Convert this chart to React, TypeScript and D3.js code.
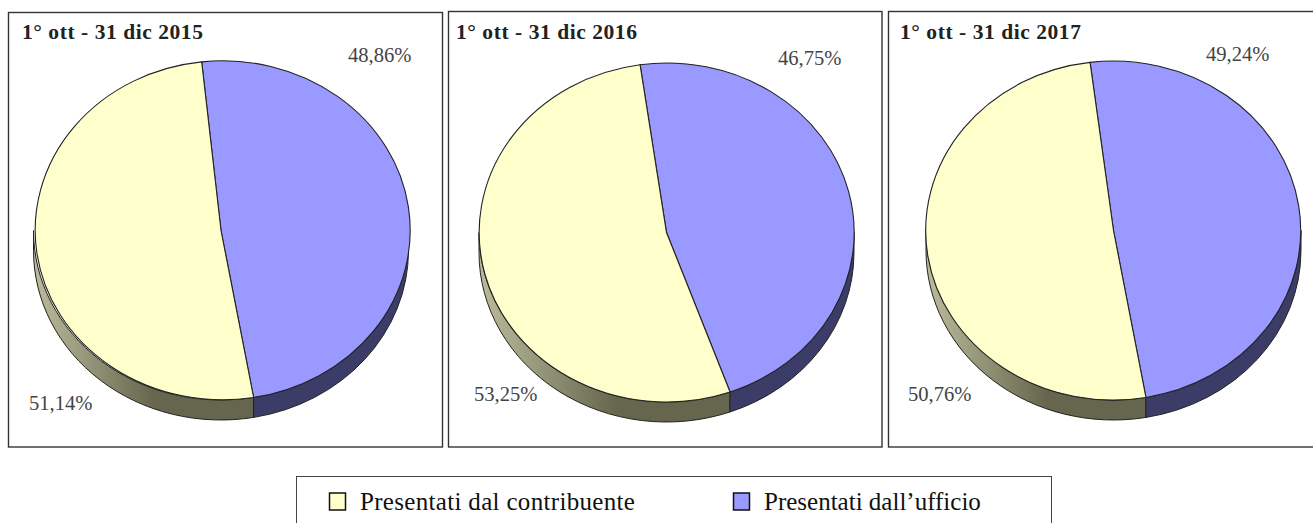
import { useEffect, useRef } from "react";
import * as d3 from "d3";

const periods = ["1° ott - 31 dic 2015", "1° ott - 31 dic 2016", "1° ott - 31 dic 2017"];
const contribuente = [51.14, 53.25, 50.76];
const ufficio = [48.86, 46.75, 49.24];
const seriesNames = ["Presentati dal contribuente", "Presentati dall’ufficio"];

const fmt = (v: number) => v.toFixed(2).replace(".", ",") + "%";

// layout of each panel, measured on the picture
const panels = [
  { x: 8.5, y: 12.5, w: 434, h: 434.5, cx: 221, cy: 230.5, rot: -5.9, tx: 22, blue: [348, 62], yellow: [29, 410] },
  { x: 448.5, y: 11.5, w: 433.5, h: 435.5, cx: 666.5, cy: 232.5, rot: -8.1, tx: 456, blue: [778, 65], yellow: [474, 401] },
  { x: 888.5, y: 11.5, w: 440, h: 435.5, cx: 1113.5, cy: 230.5, rot: -7.2, tx: 900, blue: [1206, 61], yellow: [908, 401] },
];
const legendSpacing = [0.32, 0];
const rx = 187.5;
const ry = 169.5;
const depth = 20;

const App = () => {
  const svgRef = useRef<SVGSVGElement>(null);

  useEffect(() => {
    document.body.style.margin = "0";
    const svg = d3.select(svgRef.current);
    svg.selectAll("*").remove();

    const grad = svg
      .append("defs")
      .append("linearGradient")
      .attr("id", "wallY")
      .attr("x1", 0)
      .attr("x2", 1)
      .attr("y1", 0)
      .attr("y2", 0);
    grad.append("stop").attr("offset", "0%").attr("stop-color", "#bcbc9c");
    grad.append("stop").attr("offset", "55%").attr("stop-color", "#66664e");
    grad.append("stop").attr("offset", "100%").attr("stop-color", "#66664e");

    const color = d3.scaleOrdinal<string, string>().domain(seriesNames).range(["#ffffcc", "#9999ff"]);
    const arc = d3.arc<d3.PieArcDatum<number>>().innerRadius(0).outerRadius(1);

    periods.forEach((period, i) => {
      const p = panels[i];
      const g = svg.append("g");
      g.append("rect")
        .attr("x", p.x)
        .attr("y", p.y)
        .attr("width", p.w)
        .attr("height", p.h)
        .attr("fill", "#fff")
        .attr("stroke", "#333")
        .attr("stroke-width", 1.4);

      const start = (p.rot * Math.PI) / 180;
      // blue goes clockwise from the top, yellow closes the circle
      const pie = d3
        .pie<number>()
        .sort(null)
        .startAngle(start)
        .endAngle(start + 2 * Math.PI);
      const arcs = pie([ufficio[i], contribuente[i]]);
      const split = arcs[0].endAngle;
      const names = [seriesNames[1], seriesNames[0]];

      const pt = (a: number, dy = 0) => [p.cx + rx * Math.sin(a), p.cy - ry * Math.cos(a) + dy];
      const wall = (a0: number, a1: number) => {
        const [x0, y0] = pt(a0);
        const [x1, y1] = pt(a1);
        const [x2, y2] = pt(a1, depth);
        const [x3, y3] = pt(a0, depth);
        return `M${x0},${y0}A${rx},${ry} 0 0 1 ${x1},${y1}L${x2},${y2}A${rx},${ry} 0 0 0 ${x3},${y3}Z`;
      };
      const walls = [
        { d: wall(split, (3 * Math.PI) / 2), fill: "url(#wallY)" },
        { d: wall(Math.PI / 2, split), fill: "#3c3c68" },
      ];
      g.selectAll(".wall")
        .data(walls)
        .enter()
        .append("path")
        .attr("class", "wall")
        .attr("d", (d) => d.d)
        .attr("fill", (d) => d.fill)
        .attr("stroke", "#222")
        .attr("stroke-width", 1);

      g.append("g")
        .attr("transform", `translate(${p.cx},${p.cy}) scale(${rx},${ry})`)
        .selectAll("path")
        .data(arcs)
        .enter()
        .append("path")
        .attr("d", arc)
        .attr("fill", (_, k) => color(names[k]))
        .attr("stroke", "#222")
        .attr("stroke-width", 1.1)
        .attr("vector-effect", "non-scaling-stroke");

      g.append("text")
        .attr("x", p.tx)
        .attr("y", 39)
        .attr("font-family", "Liberation Serif")
        .attr("font-weight", "bold")
        .attr("font-size", 21.5)
        .attr("letter-spacing", 0.55)
        .attr("fill", "#222")
        .text(period);

      [
        { pos: p.blue, v: ufficio[i] },
        { pos: p.yellow, v: contribuente[i] },
      ].forEach((l) => {
        g.append("text")
          .attr("x", l.pos[0])
          .attr("y", l.pos[1])
          .attr("font-family", "Liberation Serif")
          .attr("font-size", 20.6)
          .attr("fill", "#444")
          .text(fmt(l.v));
      });
    });

    const legend = svg.append("g");
    legend
      .append("rect")
      .attr("x", 296.5)
      .attr("y", 476.5)
      .attr("width", 755)
      .attr("height", 60)
      .attr("fill", "#fff")
      .attr("stroke", "#444")
      .attr("stroke-width", 1);
    const legendX = d3.scalePoint<string>().domain(seriesNames).range([329.5, 733.5]);
    seriesNames.forEach((name, k) => {
      legend
        .append("rect")
        .attr("x", legendX(name)!)
        .attr("y", 493)
        .attr("width", 16)
        .attr("height", 17)
        .attr("fill", color(name))
        .attr("stroke", "#111")
        .attr("stroke-width", 1.5);
      legend
        .append("text")
        .attr("x", legendX(name)! + 30.5)
        .attr("y", 510)
        .attr("font-family", "Liberation Serif")
        .attr("font-size", 25)
        .attr("letter-spacing", legendSpacing[k])
        .attr("fill", "#111")
        .text(name);
    });
  }, []);

  return <svg ref={svgRef} width={1313} height={523} style={{ display: "block" }}></svg>;
};

export default App;
